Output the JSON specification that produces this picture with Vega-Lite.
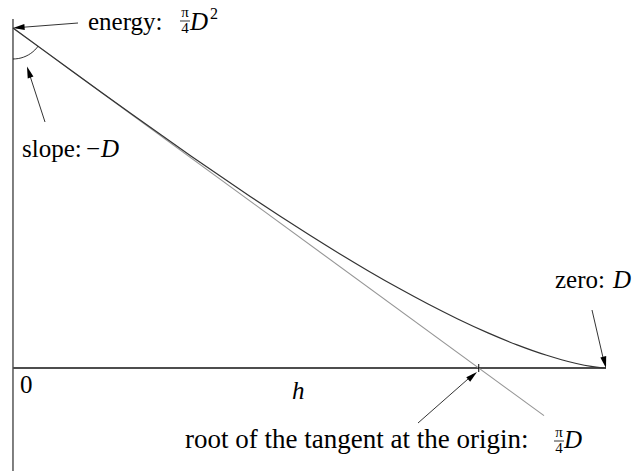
{
  "$schema": "https://vega.github.io/schema/vega-lite/v6.json",
  "width": 637,
  "height": 471,
  "padding": 0,
  "autosize": {"type": "none"},
  "background": "white",
  "config": {"view": {"stroke": null}},
  "encoding": {
    "x": {"field": "h", "type": "quantitative", "scale": {"domain": [-0.021922, 1.052277], "nice": false, "zero": false}, "axis": null},
    "y": {"field": "A", "type": "quantitative", "scale": {"domain": [-0.23793, 0.850081], "nice": false, "zero": false}, "axis": null}
  },
  "layer": [
    {
      "data": {"values": [{"h": 0, "A": 0.806191, "A2": -0.23793}]},
      "mark": {"type": "rule", "color": "#000000", "strokeWidth": 1},
      "encoding": {"y2": {"field": "A2"}}
    },
    {
      "data": {"values": [{"h": 0, "h2": 1, "A": 0}]},
      "mark": {"type": "rule", "color": "#4d4d4d", "strokeWidth": 2},
      "encoding": {"x2": {"field": "h2"}}
    },
    {
      "data": {"values": [{"h": 0, "A": 0.785398}, {"h": 0.895447, "A": -0.110049}]},
      "mark": {"type": "line", "color": "#959595", "strokeWidth": 1.1},
      "encoding": {}
    },
    {
      "data": {"values": [
        {"h": 0, "A": 0.785398}, {"h": 0.05, "A": 0.735419}, {"h": 0.1, "A": 0.685565},
        {"h": 0.15, "A": 0.635963}, {"h": 0.2, "A": 0.586739}, {"h": 0.25, "A": 0.538027},
        {"h": 0.3, "A": 0.489961}, {"h": 0.35, "A": 0.442682}, {"h": 0.4, "A": 0.396337},
        {"h": 0.45, "A": 0.351084}, {"h": 0.5, "A": 0.307092}, {"h": 0.55, "A": 0.264546},
        {"h": 0.6, "A": 0.223648}, {"h": 0.65, "A": 0.184628}, {"h": 0.7, "A": 0.147749},
        {"h": 0.75, "A": 0.113328}, {"h": 0.8, "A": 0.081751}, {"h": 0.85, "A": 0.053523},
        {"h": 0.9, "A": 0.029363}, {"h": 0.925, "A": 0.01916}, {"h": 0.95, "A": 0.010461},
        {"h": 0.975, "A": 0.003722}, {"h": 0.99, "A": 0.000942}, {"h": 1, "A": 0}
      ]},
      "mark": {"type": "line", "color": "#333333", "strokeWidth": 1.2, "interpolate": "monotone"},
      "encoding": {}
    },
    {
      "data": {"values": [{"h": 0.785398, "A": 0.00924, "A2": -0.00924}]},
      "mark": {"type": "rule", "color": "#000000", "strokeWidth": 1},
      "encoding": {"y2": {"field": "A2"}}
    },
    {
      "data": {"values": [
        {"h": 0, "A": 0.713791}, {"h": 0.009078, "A": 0.714879}, {"h": 0.01788, "A": 0.718111},
        {"h": 0.026138, "A": 0.723384}, {"h": 0.033602, "A": 0.730545}, {"h": 0.040046, "A": 0.739372},
        {"h": 0.042239, "A": 0.743209}
      ]},
      "mark": {"type": "line", "color": "#000000", "strokeWidth": 0.8, "interpolate": "monotone"},
      "encoding": {}
    },
    {
      "data": {"values": [
        {"arrow": "energy", "h": 0.109612, "A": 0.796951}, {"arrow": "energy", "h": 0.006, "A": 0.786},
        {"arrow": "slope", "h": 0.053963, "A": 0.568261}, {"arrow": "slope", "h": 0.026, "A": 0.686},
        {"arrow": "zero", "h": 0.976391, "A": 0.13398}, {"arrow": "zero", "h": 0.997, "A": 0.012},
        {"arrow": "root", "h": 0.682968, "A": -0.12705}, {"arrow": "root", "h": 0.776, "A": -0.015}
      ]},
      "mark": {"type": "line", "color": "#000000", "strokeWidth": 0.8},
      "encoding": {"detail": {"field": "arrow"}}
    },
    {
      "data": {"values": [{"h": 0, "A": 0.785398}]},
      "mark": {"type": "point", "shape": "M0,0L0.75,2.9L-0.75,2.9Z", "size": 64, "angle": 265.6, "filled": true, "color": "#000000", "opacity": 1, "strokeWidth": 0}
    },
    {
      "data": {"values": [{"h": 0.023609, "A": 0.696466}]},
      "mark": {"type": "point", "shape": "M0,0L0.75,2.9L-0.75,2.9Z", "size": 64, "angle": 342, "filled": true, "color": "#000000", "opacity": 1, "strokeWidth": 0}
    },
    {
      "data": {"values": [{"h": 1, "A": 0}]},
      "mark": {"type": "point", "shape": "M0,0L0.75,2.9L-0.75,2.9Z", "size": 64, "angle": 166.4, "filled": true, "color": "#000000", "opacity": 1, "strokeWidth": 0}
    },
    {
      "data": {"values": [{"h": 0.782462, "A": -0.00924}]},
      "mark": {"type": "point", "shape": "M0,0L0.75,2.9L-0.75,2.9Z", "size": 64, "angle": 49.2, "filled": true, "color": "#000000", "opacity": 1, "strokeWidth": 0}
    },
    {
      "data": {"values": [
        {"h": 0.281619, "h2": 0.298482, "A": 0.801571},
        {"h": 0.912316, "h2": 0.929174, "A": -0.168630}
      ]},
      "mark": {"type": "rule", "color": "#000000", "strokeWidth": 0.8},
      "encoding": {"x2": {"field": "h2"}}
    },
    {
      "data": {"values": [
        {"label": "energy:", "h": 0.126476, "A": 0.779626},
        {"label": "slope:", "h": 0.015177, "A": 0.48741},
        {"label": "−", "h": 0.123102, "A": 0.48741},
        {"label": "zero:", "h": 0.914002, "A": 0.1848},
        {"label": "0", "h": 0.011804, "A": -0.05775}
      ]},
      "mark": {"type": "text", "font": "Liberation Serif", "fontSize": 25, "align": "left", "baseline": "alphabetic", "color": "#000000"},
      "encoding": {"text": {"field": "label"}}
    },
    {
      "data": {"values": [
        {"label": "root of the tangent at the origin:", "h": 0.290051, "A": -0.184800}
      ]},
      "mark": {"type": "text", "font": "Liberation Serif", "fontSize": 27, "align": "left", "baseline": "alphabetic", "color": "#000000"},
      "encoding": {"text": {"field": "label"}}
    },
    {
      "data": {"values": [
        {"label": "D", "h": 0.298482, "A": 0.779626},
        {"label": "D", "h": 0.148398, "A": 0.48741},
        {"label": "D", "h": 1.011804, "A": 0.1848},
        {"label": "h", "h": 0.470489, "A": -0.07161},
        {"label": "D", "h": 0.929174, "A": -0.184800}
      ]},
      "mark": {"type": "text", "font": "Liberation Serif", "fontSize": 25, "fontStyle": "italic", "align": "left", "baseline": "alphabetic", "color": "#000000"},
      "encoding": {"text": {"field": "label"}}
    },
    {
      "data": {"values": [{"label": "2", "h": 0.332209, "A": 0.806191}]},
      "mark": {"type": "text", "font": "Liberation Serif", "fontSize": 16, "align": "left", "baseline": "alphabetic", "color": "#000000"},
      "encoding": {"text": {"field": "label"}}
    },
    {
      "data": {"values": [
        {"label": "π", "h": 0.290051, "A": 0.810811},
        {"label": "4", "h": 0.290051, "A": 0.773851},
        {"label": "π", "h": 0.920742, "A": -0.159390},
        {"label": "4", "h": 0.920742, "A": -0.196350}
      ]},
      "mark": {"type": "text", "font": "Liberation Serif", "fontSize": 15, "align": "center", "baseline": "alphabetic", "color": "#000000"},
      "encoding": {"text": {"field": "label"}}
    }
  ]
}
